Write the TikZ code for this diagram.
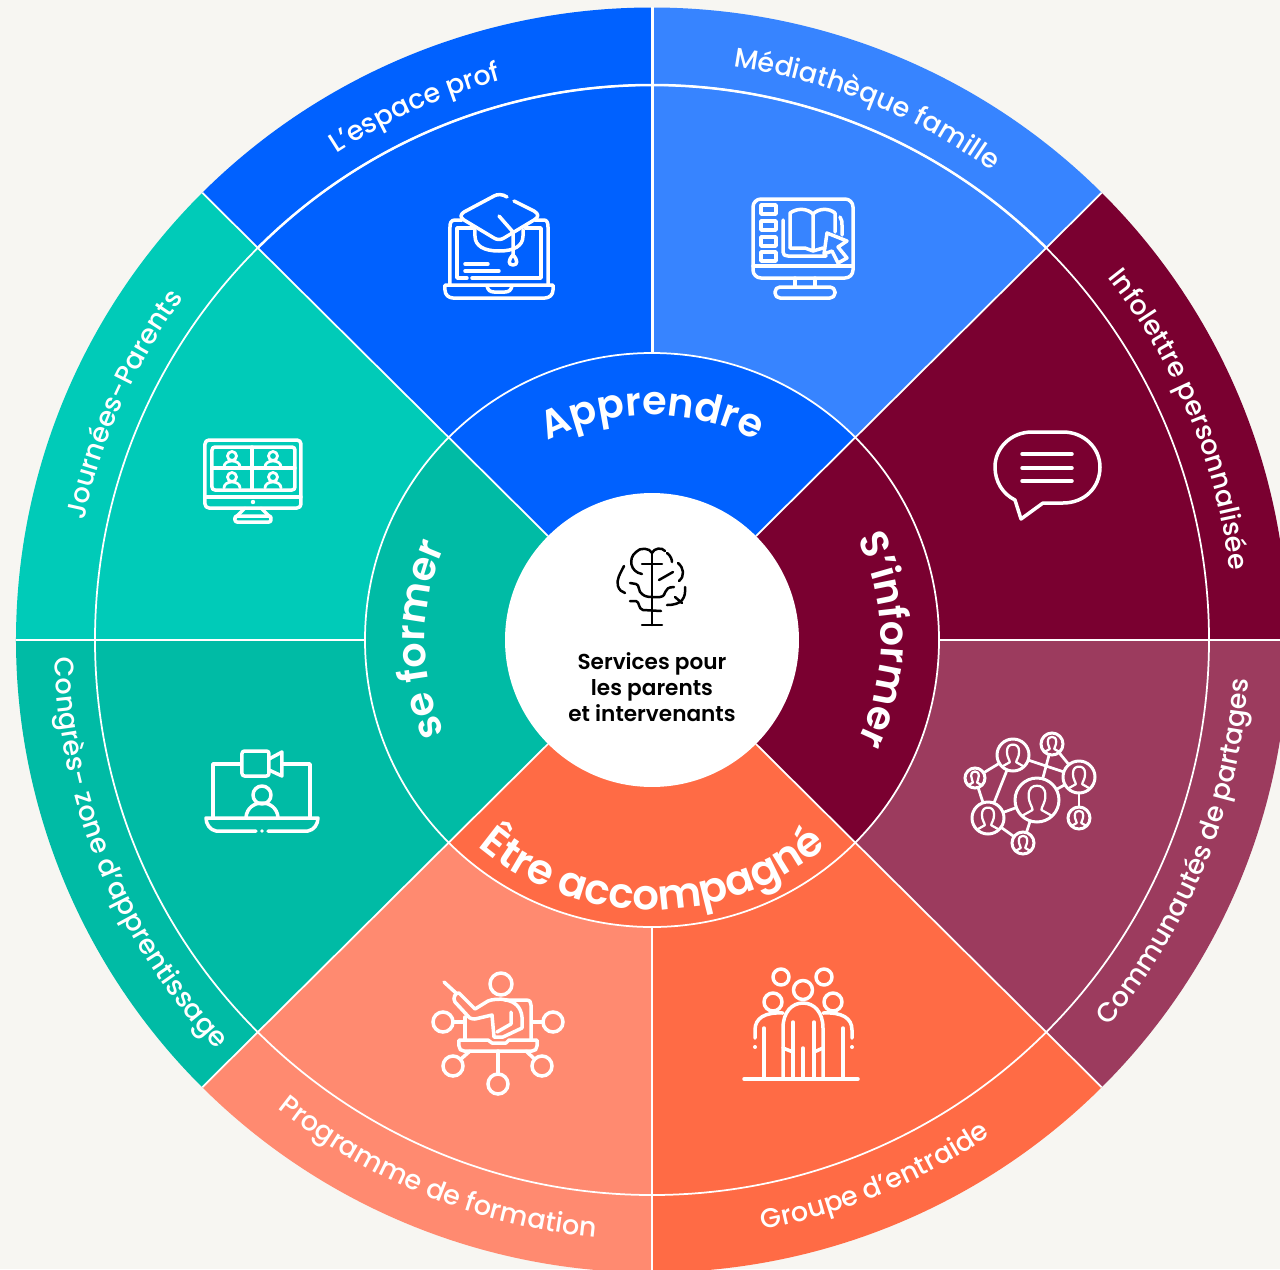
\documentclass[tikz,border=0pt]{standalone}
\usepackage{fontspec}
\setmainfont{Poppins}
\newfontfamily\outerfont{Poppins Medium}
\newfontfamily\ringfont{Poppins SemiBold}
\usetikzlibrary{decorations.text}
\definecolor{paper}{HTML}{F7F6F2}
\definecolor{blueA}{HTML}{0061FF}
\definecolor{blueB}{HTML}{3784FF}
\definecolor{wineA}{HTML}{7A0030}
\definecolor{wineB}{HTML}{9C3B5E}
\definecolor{orangeA}{HTML}{FF6B45}
\definecolor{orangeB}{HTML}{FF8A70}
\definecolor{tealA}{HTML}{00BBA5}
\definecolor{tealB}{HTML}{00CBB8}
\newcommand{\arclabel}[5]{\path[decorate,decoration={text along path,text color=white,text align=center,text={|#1|#5}}] (#2:#4) arc (#2:#3:#4);}
\newcommand{\outersize}{\outerfont\fontsize{15.4}{17}\selectfont}
\newcommand{\ringsize}{\ringfont\fontsize{22.6}{24}\selectfont}
\newcommand{\etresize}{\ringfont\fontsize{23.8}{26}\selectfont}

\begin{document}
\begin{tikzpicture}
[x=0.02cm,y=0.02cm,%
  divider/.style={white,line width=0.035cm},
  iconline/.style={white,line width=0.07cm,line cap=round,line join=round},
  thinicon/.style={iconline,line width=0.055cm},
  brainline/.style={black,line width=0.05cm,line cap=round,line join=round},
  netnode/.style={circle,draw=white,line width=0.06cm,inner sep=0pt,outer sep=0pt}]
\fill[paper] (-652,-629) rectangle (628,640);
\clip (-652,-629) rectangle (628,640);
% outer sectors
\foreach \a/\b/\c in {135/90/blueA,90/45/blueB,45/0/wineA,0/-45/wineB,-45/-90/orangeA,-90/-135/orangeB,-135/-180/tealA,180/135/tealB}
  \fill[\c] (\a:287) -- (\a:636 and 632.5) arc (\a:\b:636 and 632.5) -- (\b:287) -- cycle;
% inner ring
\foreach \a/\b/\c in {135/45/blueA,45/-45/wineA,-45/-135/orangeA,-135/-225/tealA}
  \fill[\c] (\a:147) -- (\a:287) arc (\a:\b:287) -- (\b:147) -- cycle;
\draw[divider] (0,0) circle (287);
\draw[divider] (0,0) ellipse (557 and 555);
\draw[divider,line width=0.05cm] (135:557 and 555) arc (135:45:557 and 555);
\foreach \a in {45,135,225,315}
  \draw[divider] (\a:147) -- (\a:636 and 632.5);
\foreach \a/\w in {0/0.035cm,90/0.06cm,180/0.035cm,270/0.025cm}
  \draw[divider,line width=\w] (\a:287) -- (\a:636 and 632.5);
\arclabel{\outersize}{136.5}{91.5}{580}{L’espace prof}
\arclabel{\outersize}{90.5}{45.5}{579}{Médiathèque famille}
\arclabel{\outersize}{45.2}{0.2}{582}{Infolettre personnalisée}
\arclabel{\outersize}{-44.5}{0.5}{598}{Communautés de partages}
\arclabel{\outersize}{-90}{-45}{600}{Groupe d’entraide}
\arclabel{\outersize}{-134.5}{-89.5}{600}{Programme de formation}
\arclabel{\outersize}{180}{225}{598}{Congrès- zone d’apprentissage}
\arclabel{\outersize}{178.5}{133.5}{580}{Journées-Parents}
\arclabel{\ringsize}{135}{45}{225}{Apprendre}
\arclabel{\ringsize}{45}{-45}{229}{S’informer}
\arclabel{\ringsize}{225}{135}{227}{se former}
\arclabel{\etresize}{-135}{-45}{270}{Être accompagné}
\begin{scope}[yscale=-1,shift={(-652,-640)}]
\node[circle,fill=white,minimum size=5.88cm,inner sep=0pt] (centre) at (652,640) {};
\node[align=center,black,inner sep=0pt,font=\ringfont\fontsize{12.3}{15}\selectfont] (services) at (652,687)
  {Services pour\\les parents\\et intervenants};
% brain
\draw[brainline] (652,553) -- (652,625) (642,625) -- (662,625) (642,564) -- (662,564);
\draw[brainline] (652,553) .. controls (650,548) and (640,547) .. (636,552) .. controls (628,558) and (630,572) .. (642,574);
\draw[brainline] (652,553) .. controls (654,548) and (662,547) .. (665,551);
\draw[brainline] (667,553) .. controls (671,556) and (672,560) .. (672,562);
\draw[brainline] (678,563) .. controls (684,568) and (685,576) .. (679,581);
\draw[brainline] (659,580) -- (673,572);
\draw[brainline] (624,566) .. controls (620,574) and (616,580) .. (618,586) .. controls (619,590) and (622,592) .. (625,593);
\draw[brainline] (630,583) -- (636,584) .. controls (640,585) and (638,592) .. (642,594) .. controls (645,597) and (650,597) .. (652,597)
  -- (660,597) .. controls (668,596) and (662,587) .. (674,587);
\draw[brainline] (685,587) .. controls (686,598) and (682,605) .. (667,605);
\draw[brainline] (675,597) -- (682,603);
\draw[brainline] (630,601) -- (636,601) .. controls (640,602) and (638,609) .. (643,610) -- (661,611);
% laptop and cap
\draw[iconline] (450,285) -- (450,227) .. controls (450,223) and (451,220) .. (455,220) -- (462,220);
\draw[iconline] (535,220) -- (544,220) .. controls (547,220) and (548,223) .. (548,227) -- (548,285);
\draw[iconline] (475,228) -- (457,228) -- (457,278) -- (467,278) (472,278) -- (541,278) -- (541,228) -- (525,228);
\draw[iconline] (445,285) -- (553,285) -- (553,290) .. controls (553,295) and (549,298) .. (545,298) -- (453,298) .. controls (449,298) and (445,295) .. (445,290) -- cycle;
\draw[iconline] (487,286) .. controls (488,290) and (490,292) .. (494,292) -- (505,292) .. controls (509,292) and (511,290) .. (512,286);
\draw[iconline] (507,197) .. controls (503,194) and (497,194) .. (494,196) -- (464,212) .. controls (460,215) and (460,217) .. (464,220)
  -- (494,238) .. controls (497,240) and (501,240) .. (504,238) -- (534,220) .. controls (539,217) and (539,214) .. (534,211) -- (514,201);
\draw[iconline] (475,230) -- (475,236) .. controls (475,246) and (484,251) .. (499,251) .. controls (514,251) and (523,246) .. (523,236) -- (523,230);
\draw[iconline] (499,216) -- (513,232) -- (513,255);
\draw[iconline] (513,255) .. controls (508,260) and (508,265) .. (513,265) .. controls (518,265) and (518,260) .. (513,255);
\draw[iconline] (465,264) -- (488,264) (465,271) -- (499,271);
% monitor and book
\draw[iconline,rounded corners=0.16cm] (753,199) rectangle (853,278);
\draw[iconline] (753,266) -- (853,266) (795,278) -- (795,287) (815,278) -- (815,287);
\draw[iconline,rounded corners=0.1cm] (775,287) rectangle (835,298);
\foreach \y in {205,221,237,252}
  \draw[iconline] (761,\y) rectangle (776,\y+9);
\draw[iconline] (790,248) -- (790,213) .. controls (797,208) and (807,208) .. (813,214) .. controls (819,208) and (829,208) .. (835,213) -- (835,232);
\draw[iconline] (790,248) -- (805,248) -- (813,251) -- (823,248) (813,214) -- (813,251);
\draw[iconline] (783,220) -- (783,252) .. controls (783,255) and (785,256) .. (788,256) -- (826,256);
\draw[iconline] (840,217) .. controls (842,220) and (842,222) .. (842,225) -- (842,235);
\draw[iconline] (827,233) -- (847,241) -- (838,247) -- (847,258) -- (838,263) -- (832,251) -- (824,254) -- cycle;
% speech bubble
\draw[iconline] (1032,432) -- (1063,432) .. controls (1084,432) and (1100,448) .. (1100,467) .. controls (1100,488) and (1084,503) .. (1063,503)
  -- (1043,503) -- (1021,519) -- (1015,500) .. controls (1003,494) and (995,482) .. (995,467) .. controls (995,448) and (1011,432) .. (1032,432) -- cycle;
\foreach \y in {454,468,481}
  \draw[iconline] (1022,\y) -- (1072,\y);
% monitor with four people
\draw[iconline,rounded corners=0.08cm] (205,440) rectangle (301,508);
\draw[iconline,rounded corners=0.06cm] (212,447) rectangle (295,490);
\draw[iconline] (205,497) -- (301,497) (252,447) -- (252,490) (212,468) -- (295,468);
\fill[white] (253,502) circle (2.2);
\draw[iconline] (245,508) -- (235,518) (261,508) -- (271,518);
\draw[iconline,rounded corners=0.04cm] (235,516) rectangle (271,522);
\foreach \x/\y in {232/456,273/456,232/477,273/477}
  \draw[thinicon,shift={(\x,\y)}] (0,0) circle (4.5) (-8,11) .. controls (-8,3) and (8,3) .. (8,11);
% laptop with camera
\draw[iconline] (213,817) -- (213,764) -- (240,764) (282,764) -- (310,764) -- (310,817);
\draw[iconline,rounded corners=0.05cm] (242,751) rectangle (269,776);
\draw[iconline] (269,759) -- (282,752) -- (282,776) -- (269,770);
\draw[iconline] (262,795) circle (9);
\draw[iconline] (246,817) .. controls (247,808) and (254,803) .. (262,803) .. controls (270,803) and (277,808) .. (278,817);
\draw[iconline] (268,831) -- (308,831) .. controls (314,830) and (318,824) .. (318,818) -- (206,818) .. controls (206,824) and (210,830) .. (216,831) -- (256,831);
\fill[white] (262,831) circle (1.9);
% training network
\draw[iconline] (501,984) circle (11);
\draw[iconline] (444,982) -- (456,993);
\draw[iconline] (459,993) -- (475,1009) -- (488,1001) .. controls (495,998) and (520,996) .. (522,1017) -- (522,1028) -- (503,1037) -- (494,1037) -- (492,1015) -- (475,1019)
  .. controls (470,1019) and (468,1017) .. (467,1015) -- (455,1002) .. controls (452,998) and (456,992) .. (459,993) -- cycle;
\draw[iconline] (497,1032) -- (511,1024) -- (511,1012);
\draw[iconline] (465,1017) -- (465,1040);
\draw[iconline] (505,1000) -- (526,1000) .. controls (530,1000) and (531,1002) .. (531,1005) -- (531,1040);
\draw[iconline] (459,1040) -- (488,1040) -- (492,1043) -- (506,1043) -- (509,1040) -- (537,1040) -- (537,1046) .. controls (537,1049) and (535,1051) .. (532,1051)
  -- (464,1051) .. controls (461,1051) and (459,1049) .. (459,1046) -- cycle;
\foreach \n/\x/\y in {tl/443/1022,tr/553/1022,bl/453/1066,br/542/1066,bm/498/1084}
  \node[netnode,line width=0.07cm,minimum size=0.4cm] (\n) at (\x,\y) {};
\coordinate (fromtl) at (465,1022);
\coordinate (fromtr) at (532,1022);
\coordinate (frombl) at (470,1051);
\coordinate (frombr) at (526,1051);
\coordinate (frombm) at (498,1051);
\foreach \n in {tl,tr,bl,br,bm}
  \draw[iconline] (from\n) -- (\n);
% group of people
\draw[iconline] (744,1079) -- (858,1079);
\foreach \x/\y/\r in {781/977/8,824/977/8,803/990/9.5,773/1002/9,833/1002/9}
  \draw[iconline] (\x,\y) circle (\r);
\draw[iconline] (783,1077) -- (783,1028) .. controls (783,1012) and (792,1003) .. (803,1003) .. controls (814,1003) and (823,1012) .. (823,1028) -- (823,1077);
\draw[iconline] (793,1022) -- (793,1077) (814,1022) -- (814,1077) (803,1048) -- (803,1077);
\draw[iconline] (755,1038) -- (755,1030) .. controls (755,1018) and (765,1012) .. (783,1013);
\draw[iconline] (852,1038) -- (852,1030) .. controls (852,1018) and (842,1012) .. (823,1013);
\draw[iconline] (764,1028) -- (764,1077) (843,1028) -- (843,1077);
\draw[iconline] (783,1048) -- (793,1052) (823,1048) -- (814,1052);
\fill[white] (755,1047) circle (2) (852,1047) circle (2);
% people network
\foreach \n/\x/\y/\r in {na/1013/755/16,nb/1052/744/11,nc/1079/777/16,nd/1037/800/22,ne/975/778/10,nf/988/818/16,ng/1079/818/11,nh/1023/843/11} {
  \node[netnode,minimum size=\r*0.04cm] (\n) at (\x,\y) {};
  \begin{scope}[shift={(\x,\y)},scale=\r]
    \draw[thinicon,line width=0.045cm] (-.68,.72) -- (-.2,.45) .. controls (-.2,.3) and (-.38,.15) .. (-.38,-.2) .. controls (-.38,-.55) and (-.2,-.65) .. (0,-.65)
      .. controls (.2,-.65) and (.38,-.55) .. (.38,-.2) .. controls (.38,.15) and (.2,.3) .. (.2,.45) -- (.68,.72);
  \end{scope}
}
\foreach \p/\q in {na/ne,na/nf,na/nc,nb/nc,nb/nd,nc/nd,nc/ng,ne/nf,nf/nd,nf/nh,nd/nh}
  \draw[thinicon] (\p) -- (\q);
\end{scope}
\end{tikzpicture}
\end{document}
